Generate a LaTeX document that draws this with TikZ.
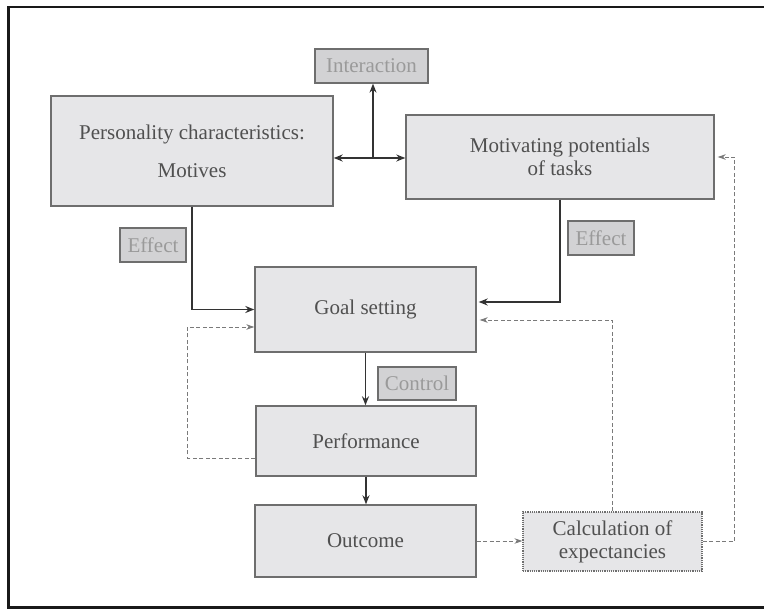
\documentclass[tikz,border=0pt]{standalone}
\usepackage{fontspec}
\setmainfont{Liberation Serif}
\usetikzlibrary{arrows.meta}
\definecolor{boxfill}{HTML}{E6E6E8}
\definecolor{boxdraw}{HTML}{6E6E6E}
\definecolor{boxtext}{HTML}{505050}
\definecolor{lblfill}{HTML}{D2D2D4}
\definecolor{lbltext}{HTML}{9A9A9A}
\definecolor{arrowcol}{HTML}{333333}
\definecolor{dashcol}{HTML}{7A7A7A}
\begin{document}
\begin{tikzpicture}[x=1pt,y=-1pt,
  font=\fontsize{21}{23}\selectfont,
  mainbox/.style={draw=boxdraw,line width=1.4pt,fill=boxfill,text=boxtext,align=center,inner sep=0pt},
  lblbox/.style={draw=boxdraw,line width=1.3pt,fill=lblfill,text=lbltext,align=center,inner sep=0pt},
  calcbox/.style={draw=boxdraw,line width=1.2pt,densely dotted,fill=boxfill,text=boxtext,align=center,inner sep=0pt},
  solidarrow/.style={draw=arrowcol,line width=1.3pt,-{Stealth[length=9pt,width=7pt]}},
  dasharrow/.style={draw=dashcol,line width=0.9pt,dash pattern=on 4pt off 2.5pt,-{Stealth[length=8pt,width=5.5pt]}}
]
\useasboundingbox (0,0) rectangle (764,609);
\clip (0,0) rectangle (764,609);
% frame
\draw[line width=2.2pt,black!90] (780,7) -- (8.5,7) -- (8.5,607.5) -- (780,607.5);

% main boxes
\node[mainbox,minimum width=282pt,minimum height=110pt] (pers) at (192,151)
  {Personality characteristics:\\[15pt]Motives};
\node[mainbox,minimum width=308pt,minimum height=84pt] (mot) at (560,157)
  {Motivating potentials\\of tasks};
\node[mainbox,minimum width=221pt,minimum height=85pt] (goal) at (365.5,309.5) {Goal setting};
\node[mainbox,minimum width=220pt,minimum height=70pt] (perf) at (366,441) {Performance};
\node[mainbox,minimum width=221pt,minimum height=72pt] (out) at (365.5,541) {Outcome};
\node[calcbox,minimum width=179pt,minimum height=59pt] (calc) at (612.5,541.5)
  {Calculation of\\expectancies};

% label boxes
\node[lblbox,minimum width=113pt,minimum height=34pt] (inter) at (371.5,66) {Interaction};
\node[lblbox,minimum width=66pt,minimum height=34pt] (eff1) at (153,245) {Effect};
\node[lblbox,minimum width=66pt,minimum height=34pt] (eff2) at (601,238) {Effect};
\node[lblbox,minimum width=78pt,minimum height=33pt] (ctrl) at (417,383.5) {Control};

% interaction connectors
\coordinate (J) at (373,158);
\draw[solidarrow] (J) -- (J -| pers.east);
\draw[solidarrow] (J) -- (J -| mot.west);
\draw[solidarrow] (J) -- (J |- inter.south);

% effects
\draw[solidarrow] (pers.south) |- (goal.west);
\draw[solidarrow] (mot.south) |- ([yshift=7.5pt,xshift=2pt]goal.east);

% main flow
\draw[solidarrow] (goal.south) -- (goal.south |- perf.north);
\draw[solidarrow] (perf.south) -- (perf.south |- out.north);

% feedback loops
\draw[dasharrow] ([yshift=-17pt]perf.west) -- ++(-68,0) |- ([yshift=-17.5pt]goal.west);
\draw[dasharrow] (out.east) -- (out.east -| calc.west);
\draw[dasharrow] (calc.north) |- ([yshift=-10.5pt,xshift=3pt]goal.east);
\draw[dasharrow] (calc.east) -- ++(32,0) |- ([xshift=3pt]mot.east);
\end{tikzpicture}
\end{document}
